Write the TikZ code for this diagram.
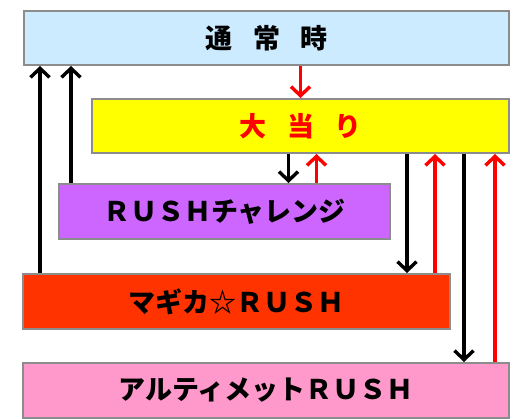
\documentclass[tikz,border=0pt]{standalone}
\usepackage{fontspec}
\usepackage{tikz}
\usetikzlibrary{arrows.meta,positioning,calc}
\newfontfamily\jpfont{Noto Sans CJK JP}[BoldFont=* Black]

\definecolor{tsujoblue}{HTML}{CCEBFF}
\definecolor{atariyellow}{HTML}{FFFF00}
\definecolor{chalpurple}{HTML}{CC66FF}
\definecolor{magicared}{HTML}{FF3300}
\definecolor{ultpink}{HTML}{FF99CC}
\definecolor{boxgray}{HTML}{8C8C8C}

\begin{document}
\begin{tikzpicture}[
  x=1pt, y=-1pt,
  box/.style={draw=boxgray, line width=2pt, anchor=north west, inner sep=0pt,
    font=\jpfont\bfseries\fontsize{27pt}{30pt}\selectfont},
  blk/.style={-{Straight Barb[length=9pt,width=19pt]}, line width=3.4pt},
  rd/.style={blk, red}
]
  \useasboundingbox (0,0) rectangle (527,419);

  % States
  \node[box, fill=tsujoblue, minimum width=485pt, minimum height=54pt] (Tsujo) at (23,10)
    {通\hspace{0.75em}常\hspace{0.75em}時};
  \node[box, fill=atariyellow, text=red, minimum width=417pt, minimum height=54pt] (Atari) at (91,98)
    {大\hspace{0.75em}当\hspace{0.75em}り};
  \node[box, fill=chalpurple, minimum width=331pt, minimum height=55pt] (Chal) at (58,183)
    {ＲＵＳＨチャレンジ};
  \node[box, fill=magicared, minimum width=427pt, minimum height=55pt] (Magica) at (22,273)
    {マギカ☆ＲＵＳＨ};
  \node[box, fill=ultpink, minimum width=486pt, minimum height=55pt] (Ult) at (22,362)
    {アルティメットＲＵＳＨ};

  % Into the hit
  \draw[rd] (Tsujo.south -| Atari.north) -- (Atari.north);

  % Back to normal
  \draw[blk] ([xshift=18pt]Magica.north west) -- ([xshift=18pt]Magica.north west |- Tsujo.south);
  \draw[blk] ([xshift=13pt]Chal.north west) -- ([xshift=13pt]Chal.north west |- Tsujo.south);

  % Hit <-> RUSH challenge
  \draw[blk] ([xshift=-12pt]Atari.south) -- ([xshift=-12pt]Atari.south |- Chal.north);
  \draw[rd] ([xshift=16pt]Atari.south |- Chal.north) -- ([xshift=16pt]Atari.south);

  % Hit <-> Magica RUSH
  \draw[blk] ([xshift=-103pt]Atari.south east) -- ([xshift=-103pt]Atari.south east |- Magica.north);
  \draw[rd] ([xshift=-16pt]Magica.north east) -- ([xshift=-16pt]Magica.north east |- Atari.south);

  % Hit <-> Ultimate RUSH
  \draw[blk] ([xshift=-46pt]Atari.south east) -- ([xshift=-46pt]Atari.south east |- Ult.north);
  \draw[rd] ([xshift=-15pt]Ult.north east) -- ([xshift=-15pt]Ult.north east |- Atari.south);

\end{tikzpicture}
\end{document}
